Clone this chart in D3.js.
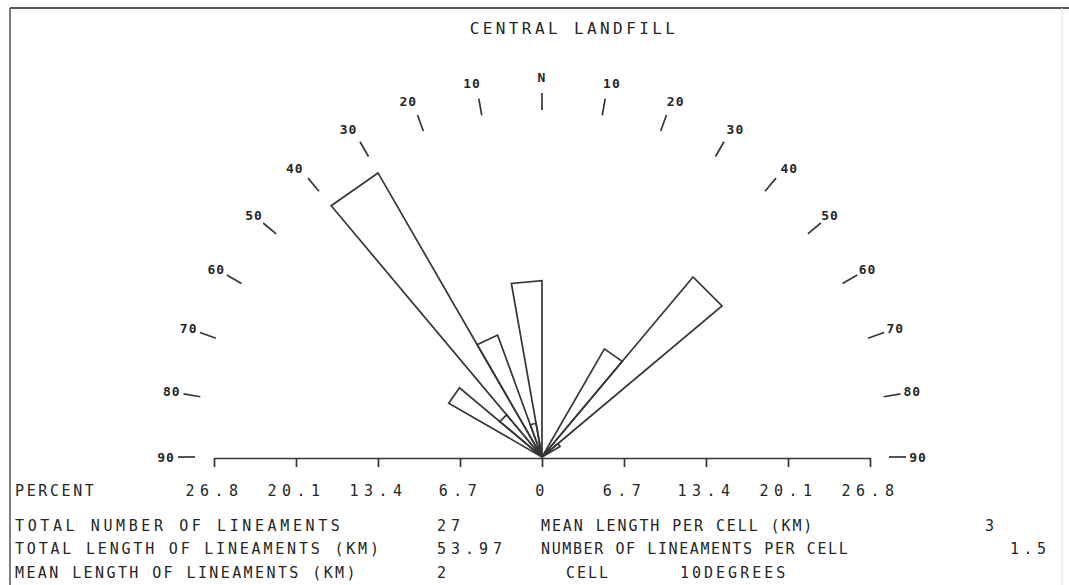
<!DOCTYPE html>
<html>
<head>
<meta charset="utf-8">
<script src="https://cdn.jsdelivr.net/npm/d3@7"></script>
<style>
  html, body { margin: 0; padding: 0; background: #fff; }
  svg { display: block; }
  text { font-family: "DejaVu Sans Mono", monospace; fill: #262626; }
</style>
</head>
<body>
<svg id="chart" width="1069" height="585"></svg>
<script>
// Lineament rose: 10-degree cells, azimuth of cell start (west negative), percent of total
const cellStart = [-60, -50, -40, -30, -20, -10, 30, 40, 50];
const cellPercent = [8.8, 4.5, 26.8, 10.6, 2.8, 14.4, 10.2, 19.2, 1.7];
const cellWidth = 10;

// Compass scale labels along the half circle
const compassAngles = [-90, -80, -70, -60, -50, -40, -30, -20, -10, 0, 10, 20, 30, 40, 50, 60, 70, 80, 90];
const compassLabels = ["90", "80", "70", "60", "50", "40", "30", "20", "10", "N", "10", "20", "30", "40", "50", "60", "70", "80", "90"];

// Percent axis
const percentTicks = [-26.8, -20.1, -13.4, -6.7, 0, 6.7, 13.4, 20.1, 26.8];
const percentMax = 26.8;

// Summary table
const statsLeftNames = ["TOTAL NUMBER OF LINEAMENTS", "TOTAL LENGTH OF LINEAMENTS (KM)", "MEAN LENGTH OF LINEAMENTS (KM)"];
const statsLeftValues = ["27", "53.97", "2"];
const statsRightNames = ["MEAN LENGTH PER CELL (KM)", "NUMBER OF LINEAMENTS PER CELL", "CELL"];
const statsRightValues = ["3", "1.5", "10DEGREES"];

const svg = d3.select("#chart");
const ink = "#363636";

const cx = 542, cy = 457, axisY = 458;
const rMax = 328;

const r = d3.scaleLinear().domain([0, percentMax]).range([0, rMax]);
const xAxisScale = d3.scaleLinear().domain([-percentMax, percentMax]).range([cx - rMax, cx + rMax]);

// polar helper: azimuth in degrees from north, clockwise
const pt = (deg, rad) => {
  const a = deg * Math.PI / 180;
  return [cx + rad * Math.sin(a), cy - rad * Math.cos(a)];
};

// frame
svg.append("line").attr("x1", 10).attr("y1", 8).attr("x2", 1069).attr("y2", 8)
  .attr("stroke", "#555").attr("stroke-width", 2);
svg.append("line").attr("x1", 10).attr("y1", 8).attr("x2", 10).attr("y2", 585)
  .attr("stroke", "#555").attr("stroke-width", 1.5);
svg.append("line").attr("x1", 1062).attr("y1", 8).attr("x2", 1062).attr("y2", 585)
  .attr("stroke", "#e2e2e2").attr("stroke-width", 1);

// title
svg.append("text").attr("x", 574).attr("y", 34).attr("text-anchor", "middle")
  .attr("font-size", 16).attr("letter-spacing", 3.4).text("CENTRAL LANDFILL");

// compass ticks and labels
const compass = svg.append("g");
compassAngles.forEach((a, i) => {
  const [x1, y1] = pt(a, 347);
  const [x2, y2] = pt(a, 364);
  compass.append("line").attr("x1", x1).attr("y1", y1).attr("x2", x2).attr("y2", y2)
    .attr("stroke", ink).attr("stroke-width", 1.7);
  const steep = Math.abs(a) <= 40;
  const shift = steep && a !== 0 ? Math.sign(a) * 0.6 : 0;
  const [lx, ly] = pt(a + shift, steep ? 380 : 376);
  compass.append("text").attr("x", lx).attr("y", ly)
    .attr("text-anchor", "middle").attr("dominant-baseline", "central")
    .attr("font-size", 13).attr("font-weight", "bold").attr("letter-spacing", 1)
    .text(compassLabels[i]);
});

// petals
const petals = svg.append("g");
cellStart.forEach((s, i) => {
  const rad = r(cellPercent[i]);
  const p1 = pt(s, rad), p2 = pt(s + cellWidth, rad);
  petals.append("path")
    .attr("d", `M${cx},${cy}L${p1[0]},${p1[1]}L${p2[0]},${p2[1]}Z`)
    .attr("fill", "none").attr("stroke", ink).attr("stroke-width", 1.7)
    .attr("stroke-linejoin", "miter");
});

// percent axis
const axis = d3.axisBottom(xAxisScale)
  .tickValues(percentTicks)
  .tickSize(9)
  .tickSizeOuter(0)
  .tickPadding(18)
  .tickFormat(d => d3.format(".1~f")(Math.abs(d)));
const gAxis = svg.append("g").attr("transform", `translate(0,${axisY})`).call(axis);
gAxis.select(".domain").attr("stroke", ink).attr("stroke-width", 1.7);
gAxis.selectAll(".tick line").attr("stroke", ink).attr("stroke-width", 1.7);
gAxis.selectAll(".tick text")
  .attr("font-family", "DejaVu Sans Mono, monospace")
  .attr("font-size", 15).attr("letter-spacing", 5.5).attr("fill", "#262626");

svg.append("text").attr("x", 15).attr("y", 496).attr("font-size", 15)
  .attr("letter-spacing", 2.6).text("PERCENT");

// summary table
const rowY = [531, 554, 578];
const leftSpacing = [3.6, 2.8, 2.4];
statsLeftNames.forEach((t, i) => {
  svg.append("text").attr("x", 15).attr("y", rowY[i]).attr("font-size", 15)
    .attr("letter-spacing", leftSpacing[i]).text(t);
});
statsLeftValues.forEach((t, i) => {
  svg.append("text").attr("x", 437).attr("y", rowY[i]).attr("font-size", 15)
    .attr("letter-spacing", 5).text(t);
});
const rightNameX = [541, 541, 566];
const rightSpacing = [1.9, 1.6, 2];
statsRightNames.forEach((t, i) => {
  svg.append("text").attr("x", rightNameX[i]).attr("y", rowY[i]).attr("font-size", 15)
    .attr("letter-spacing", rightSpacing[i]).text(t);
});
const rightValueX = [985, 1010, 680];
const valueSpacing = [3, 4.5, 3];
statsRightValues.forEach((t, i) => {
  svg.append("text").attr("x", rightValueX[i]).attr("y", rowY[i]).attr("font-size", 15)
    .attr("letter-spacing", valueSpacing[i]).text(t);
});
</script>
</body>
</html>
